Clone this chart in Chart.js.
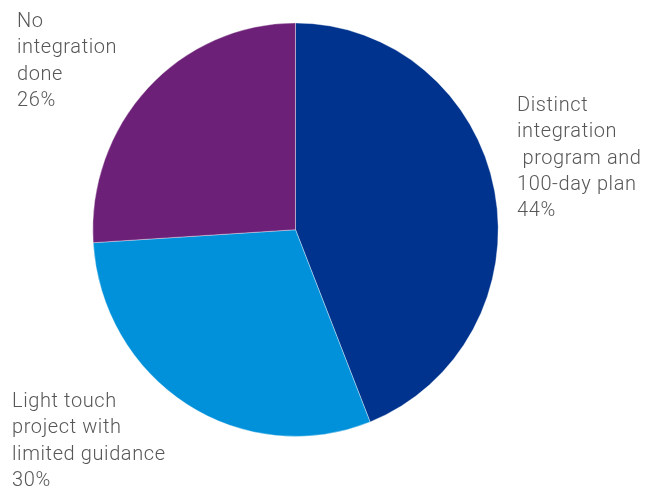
<!DOCTYPE html>
<html>
<head>
<meta charset="utf-8">
<script src="https://cdn.jsdelivr.net/npm/chart.js@4/dist/chart.umd.min.js"></script>
<style>
  html, body { margin: 0; padding: 0; background: #fff; }
  #wrap { width: 646px; height: 486px; }
</style>
</head>
<body>
<div id="wrap"><canvas id="chart" width="646" height="486"></canvas></div>
<script>
const categories = ['Distinct integration program and 100-day plan', 'Light touch project with limited guidance', 'No integration done'];
const shares = [44, 30, 26];
const colors = ['#00338D', '#0091DA', '#6D2077'];

// label text, one array of lines per slice (value line is added from shares)
const labelLines = [
    ['Distinct', 'integration', ' program and', '100-day plan'],
    ['Light touch', 'project with', 'limited guidance'],
    ['No', 'integration', 'done']
];
// where each label block starts (left x, first baseline y)
const labelSpots = [[517, 111], [12, 407], [17, 27]];

// the pie is a touch taller than wide
const stretchY = 1.02;

const pieStretch = {
    id: 'pieStretch',
    beforeDatasetsDraw(chart) {
        const a = chart.chartArea;
        const cx = (a.left + a.right) / 2, cy = (a.top + a.bottom) / 2;
        const c = chart.ctx;
        c.save();
        c.translate(cx, cy);
        c.scale(1, stretchY);
        c.translate(-cx, -cy);
    },
    afterDatasetsDraw(chart) {
        chart.ctx.restore();
    }
};

const sliceLabels = {
    id: 'sliceLabels',
    afterDraw(chart) {
        const c = chart.ctx;
        c.save();
        c.font = '300 20px Roboto, "Liberation Sans", sans-serif';
        c.letterSpacing = '0.6px';
        c.fillStyle = '#575757';
        c.textBaseline = 'alphabetic';
        labelLines.forEach((lines, i) => {
            const all = lines.concat([shares[i] + '%']);
            all.forEach((t, k) => {
                c.fillText(t, labelSpots[i][0], labelSpots[i][1] + k * 26.3);
            });
        });
        c.restore();
    }
};

const ctx = document.getElementById('chart').getContext('2d');
const pieChart = new Chart(ctx, {
    type: 'pie',
    data: {
        labels: categories,
        datasets: [{
            data: shares,
            backgroundColor: colors,
            borderColor: 'rgba(255,255,255,0.6)',
            borderWidth: 0.6,
            hoverOffset: 0
        }]
    },
    options: {
        responsive: false,
        animation: false,
        layout: { padding: { left: 92.5, right: 147.5, top: 26.7, bottom: 53.3 } },
        plugins: {
            legend: { display: false },
            tooltip: { enabled: false }
        }
    },
    plugins: [pieStretch, sliceLabels]
});
</script>
</body>
</html>
